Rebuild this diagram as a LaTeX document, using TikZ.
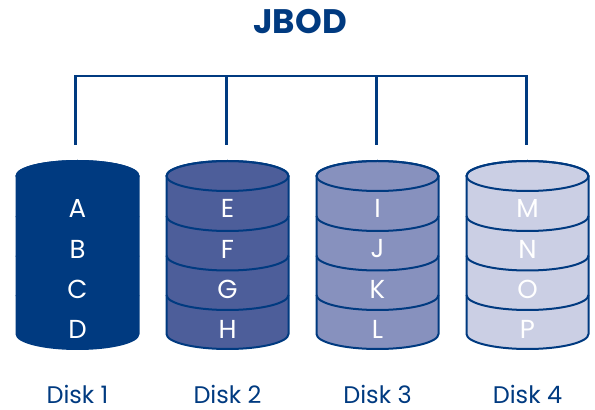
\documentclass[tikz,border=0pt]{standalone}
\usepackage{fontspec}
\setmainfont{Poppins}
\definecolor{navy}{HTML}{003A80}
\definecolor{dA}{HTML}{003A80}
\definecolor{dB}{HTML}{4D5E9A}
\definecolor{dC}{HTML}{8791BE}
\definecolor{dD}{HTML}{CBCFE4}
\tikzset{
  bus/.style={draw=navy, line width=2.5pt, line join=miter},
  cyl/.style={draw=navy, line width=2pt},
  seg/.style={text=white, font=\fontsize{26}{30}\selectfont, inner sep=0pt},
  disklabel/.style={text=navy, font=\fontsize{24}{28}\selectfont, inner sep=0pt},
  titlelabel/.style={text=navy, font=\bfseries\fontsize{34}{40}\selectfont, inner sep=0pt}
}
\begin{document}
\begin{tikzpicture}[x=1pt,y=1pt]
\useasboundingbox (0,0) rectangle (595,410);
\node[titlelabel, anchor=base] (title) at (300,376) {JBOD};
% bus
\foreach \i/\x in {1/75.5,2/226.5,3/376.5,4/526.5}{
  \coordinate (bus\i) at (\x,334);
  \coordinate (top\i) at (\x,265);
}
\draw[bus] (top1) -- (bus1) -- (bus4) -- (top4);
\draw[bus] (bus2) -- (top2);
\draw[bus] (bus3) -- (top3);
% disks
\foreach \cx/\col/\a/\b/\c/\d/\n in {77.5/dA/A/B/C/D/1,227.5/dB/E/F/G/H/2,377.5/dC/I/J/K/L/3,527.5/dD/M/N/O/P/4}{
  \filldraw[cyl, fill=\col] (\cx-61,234) -- (\cx-61,76)
     arc[start angle=180, end angle=360, x radius=61, y radius=15]
     -- (\cx+61,234)
     arc[start angle=0, end angle=180, x radius=61, y radius=15] -- cycle;
  \draw[cyl] (\cx,234) ellipse[x radius=61, y radius=15];
  \foreach \yb in {194,154.5,115}{
    \draw[cyl] (\cx-61,\yb) arc[start angle=180, end angle=360, x radius=61, y radius=15];
  }
  \node[seg] (s\n a) at (\cx,201.5) {\a};
  \node[seg] (s\n b) at (\cx,161) {\b};
  \node[seg] (s\n c) at (\cx,120.5) {\c};
  \node[seg] (s\n d) at (\cx,81) {\d};
  \node[disklabel] (label\n) at (\cx,16) {Disk \n};
}
\end{tikzpicture}
\end{document}
